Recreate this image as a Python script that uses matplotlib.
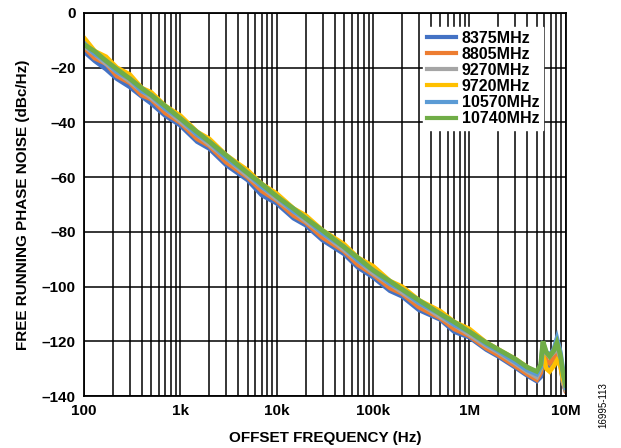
import matplotlib.pyplot as plt
from matplotlib.ticker import FixedLocator, NullFormatter

plt.rcParams['font.family'] = ['Liberation Sans', 'DejaVu Sans']

# offset frequency points (Hz)
freq = [100, 130, 170, 220, 300, 400, 500, 700, 1e3, 1.5e3, 2e3, 3e3, 5e3, 7e3,
        1e4, 1.5e4, 2e4, 3e4, 5e4, 7e4, 1e5, 1.5e5, 2e5, 3e5, 5e5, 7e5,
        1e6, 1.5e6, 2e6, 3e6, 4e6, 5e6, 5.5e6, 5.8e6, 6.3e6, 6.8e6, 7.5e6,
        8.1e6, 8.8e6, 9.4e6, 1e7]

pn_8375 = [-14, -17.5, -20.5, -24, -27, -30.5, -33, -37.5, -41, -47, -49.5, -55.5,
           -61, -66.5, -69.5, -75, -77.5, -83, -88, -93, -96.5, -101.5, -103.5, -108.5,
           -112, -116.5, -118.5, -123, -125.5, -129.5, -132.5, -134.5, -133, -127,
           -128.5, -129, -127, -124, -128, -135, -138]
pn_8805 = [-12.5, -16.5, -18.5, -23, -25.5, -30, -31.5, -36.5, -40, -46, -48.5, -54.5,
           -60, -65, -68.5, -74, -76.5, -82, -87, -92, -95.5, -100.5, -102.5, -107.5,
           -111.5, -115.5, -118, -122.5, -125, -129, -132, -134, -131.5, -124,
           -127, -128, -126, -123, -127, -135, -138]
pn_9270 = [-12, -15, -18.5, -21.5, -25, -28.5, -31, -35, -39.5, -44.5, -48, -53,
           -59.5, -63.5, -68, -72.5, -76, -80.5, -86.5, -90.5, -95, -99, -102, -106,
           -111, -114, -117.5, -121.5, -124, -128, -131, -133, -130, -120.5,
           -124.5, -125.5, -124, -122, -126, -135, -137.5]
pn_9720 = [-9, -14, -16, -20, -22.5, -27.5, -29, -34, -37.5, -43.5, -46, -52,
           -57.5, -62.5, -66, -71.5, -74, -79.5, -84.5, -89.5, -92.5, -98, -100, -105,
           -109, -113, -115.5, -120.5, -123, -126.5, -129.5, -131.5, -130, -125,
           -130, -131, -129, -127, -129, -134, -137]
pn_10570 = [-11, -15, -17.5, -21.5, -24, -28.5, -30, -35, -38.5, -44.5, -47, -53,
            -58.5, -63.5, -67, -72.5, -75, -80.5, -85.5, -90.5, -94, -99, -101, -106,
            -110, -114, -116.5, -121, -123.5, -127.5, -130.5, -132, -129.5, -122,
            -124, -125, -123, -119, -124, -131, -137]
pn_10740 = [-11.5, -14, -17.5, -20.5, -24, -27.5, -30, -34, -38.5, -43.5, -47, -52,
            -58.5, -62.5, -67, -71.5, -75, -79.5, -85.5, -89.5, -94, -98, -101, -105,
            -110, -113, -116.5, -120.5, -123, -126.5, -129.5, -131, -128.5, -120,
            -124, -125.5, -123.5, -120.5, -125, -132, -136]

series = [
    ("8375MHz", pn_8375, "#4472C4"),
    ("8805MHz", pn_8805, "#ED7D31"),
    ("9270MHz", pn_9270, "#A5A5A5"),
    ("9720MHz", pn_9720, "#FFC000"),
    ("10570MHz", pn_10570, "#5B9BD5"),
    ("10740MHz", pn_10740, "#70AD47"),
]

xticks = [1e2, 1e3, 1e4, 1e5, 1e6, 1e7]
xlabels = ["100", "1k", "10k", "100k", "1M", "10M"]
yticks = [0, -20, -40, -60, -80, -100, -120, -140]
ylabels = ["0", "\u201320", "\u201340", "\u201360", "\u201380", "\u2013100", "\u2013120", "\u2013140"]

fig = plt.figure(figsize=(6.21, 4.48), dpi=100)
ax = fig.add_axes([0.135, 0.116, 0.776, 0.855])

for name, vals, col in series:
    ax.plot(freq, vals, color=col, linewidth=3.4, label=name, solid_joinstyle='miter')

ax.set_xscale('log')
ax.set_xlim(1e2, 1e7)
ax.set_ylim(-140, 0)

ax.set_xticks(xticks)
ax.set_xticklabels(xlabels, fontsize=11, fontweight='bold')
minors = [m * 10 ** d for d in range(2, 7) for m in range(2, 10)]
ax.xaxis.set_minor_locator(FixedLocator(minors))
ax.xaxis.set_minor_formatter(NullFormatter())
ax.set_yticks(yticks)
ax.set_yticklabels(ylabels, fontsize=11, fontweight='bold')
ax.tick_params(which='both', length=0, pad=6)

ax.grid(which='major', axis='both', color='black', linewidth=1.1)
ax.grid(which='minor', axis='x', color='black', linewidth=1.1)
ax.set_axisbelow(True)
for sp in ax.spines.values():
    sp.set_linewidth(1.3)

ax.set_xlabel("OFFSET FREQUENCY (Hz)", fontsize=11, fontweight='bold', labelpad=9)
ax.set_ylabel("FREE RUNNING PHASE NOISE (dBc/Hz)", fontsize=11, fontweight='bold', labelpad=8)

leg = ax.legend(loc='upper right', bbox_to_anchor=(0.97, 0.985), frameon=True,
                fancybox=False, edgecolor='white', framealpha=1.0,
                prop={'weight': 'bold', 'size': 11.5}, handlelength=1.8,
                handletextpad=0.35, labelspacing=0.07, borderpad=0.25)
for line in leg.get_lines():
    line.set_linewidth(3)

fig.text(0.972, 0.045, "16995-113", rotation=90, fontsize=7, ha='center', va='bottom')

fig.savefig("out.png", dpi=100)
